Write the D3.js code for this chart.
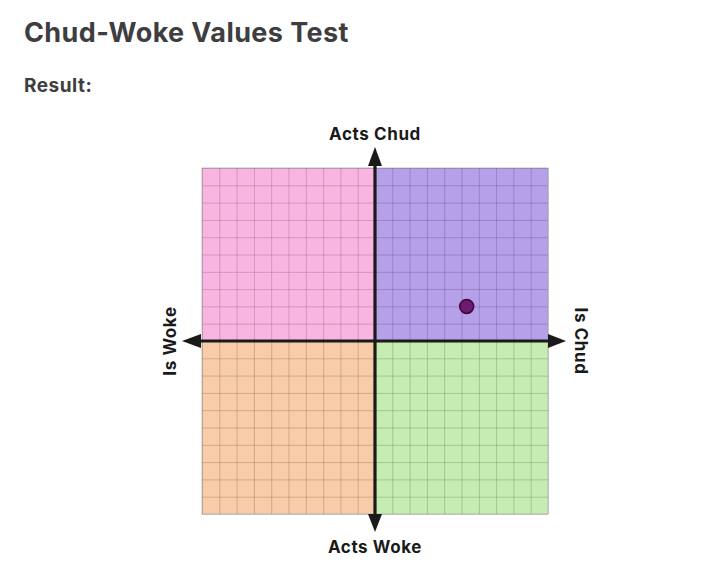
<!DOCTYPE html>
<html>
<head>
<meta charset="utf-8">
<script src="https://cdn.jsdelivr.net/npm/d3@7"></script>
<style>
  body { margin: 0; background: #fff; }
  svg text { font-family: Inter, "Open Sans", sans-serif; font-weight: 700; }
</style>
</head>
<body>
<svg id="chart" width="718" height="567"></svg>
<script>
/* data */
var quadrants = ["Acts Chud / Is Woke", "Acts Chud / Is Chud", "Acts Woke / Is Woke", "Acts Woke / Is Chud"];
var quadrantX = [-10, 0, -10, 0];
var quadrantY = [10, 10, 0, 0];
var quadrantColors = ["#f9b5e1", "#b7a0ea", "#f8cca8", "#c6ecb1"];
var axisLabels = ["Acts Chud", "Acts Woke", "Is Woke", "Is Chud"];
var resultX = [5.3];   // Is Woke (-10) .. Is Chud (+10)
var resultY = [2.0];   // Acts Woke (-10) .. Acts Chud (+10)

var svg = d3.select("#chart");

/* titles */
svg.append("text")
  .attr("x", 24).attr("y", 42)
  .attr("fill", "#3e3d3f")
  .style("font-size", "27px")
  .style("letter-spacing", "0.4px")
  .text("Chud-Woke Values Test");

svg.append("text")
  .attr("x", 24).attr("y", 92)
  .attr("fill", "#3e3d3f")
  .style("font-size", "19px")
  .style("letter-spacing", "0.5px")
  .text("Result:");

/* scales */
var xScale = d3.scaleLinear().domain([-10, 10]).range([202, 548]);
var yScale = d3.scaleLinear().domain([10, -10]).range([168, 514]);
var size = xScale(0) - xScale(-10);

/* quadrants */
svg.append("g").selectAll("rect")
  .data(quadrants)
  .enter().append("rect")
    .attr("x", function (d, i) { return xScale(quadrantX[i]); })
    .attr("y", function (d, i) { return yScale(quadrantY[i]); })
    .attr("width", size)
    .attr("height", size)
    .attr("fill", function (d, i) { return quadrantColors[i]; });

/* grid via axes */
var ticks = d3.range(-10, 11);
svg.append("g")
  .attr("class", "grid")
  .attr("transform", "translate(0," + yScale(-10) + ")")
  .call(d3.axisBottom(xScale).tickValues(ticks).tickSize(-(yScale(-10) - yScale(10))).tickFormat(""));
svg.append("g")
  .attr("class", "grid")
  .attr("transform", "translate(" + xScale(-10) + ",0)")
  .call(d3.axisLeft(yScale).tickValues(ticks).tickSize(-(xScale(10) - xScale(-10))).tickFormat(""));
svg.selectAll(".grid .domain").remove();
svg.selectAll(".grid line")
  .attr("stroke", "#000")
  .attr("stroke-opacity", 0.17)
  .attr("stroke-width", 1);

/* border */
svg.append("rect")
  .attr("x", xScale(-10)).attr("y", yScale(10))
  .attr("width", xScale(10) - xScale(-10))
  .attr("height", yScale(-10) - yScale(10))
  .attr("fill", "none")
  .attr("stroke", "#9a9a9a")
  .attr("stroke-opacity", 0.6);

/* main axes with arrowheads */
var ext = 17, aw = 7;
var cx = xScale(0), cy = yScale(0);
var yTop = yScale(10), yBot = yScale(-10), xLft = xScale(-10), xRgt = xScale(10);
var axes = svg.append("g").attr("class", "axes");
axes.append("line")
  .attr("x1", cx).attr("x2", cx)
  .attr("y1", yTop - 2).attr("y2", yBot + 2)
  .attr("stroke", "#1a1a1a").attr("stroke-width", 3.2);
axes.append("line")
  .attr("x1", xLft - 2).attr("x2", xRgt + 2)
  .attr("y1", cy).attr("y2", cy)
  .attr("stroke", "#1a1a1a").attr("stroke-width", 3.2);

var arrows = [
  [[cx, yTop - ext - 4], [cx - aw, yTop - 2], [cx + aw, yTop - 2]],
  [[cx, yBot + ext + 1], [cx - aw, yBot], [cx + aw, yBot]],
  [[xLft - ext - 3, cy], [xLft - 1, cy - aw], [xLft - 1, cy + aw]],
  [[xRgt + ext + 1, cy], [xRgt, cy - aw], [xRgt, cy + aw]]
];
axes.selectAll("path")
  .data(arrows)
  .enter().append("path")
    .attr("d", function (d) { return "M" + d.join("L") + "Z"; })
    .attr("fill", "#1a1a1a");

/* axis labels */
function axisLabel(txt, transform) {
  svg.append("text")
    .attr("transform", transform)
    .attr("text-anchor", "middle")
    .attr("fill", "#1a1a1a")
    .style("font-size", "17px")
    .style("letter-spacing", "0.6px")
    .text(txt);
}
axisLabel(axisLabels[0], "translate(" + cx + ",140)");
axisLabel(axisLabels[1], "translate(" + cx + ",553)");
axisLabel(axisLabels[2], "translate(176," + cy + ") rotate(-90)");
axisLabel(axisLabels[3], "translate(575," + cy + ") rotate(90)");

/* result point */
svg.append("g").selectAll("circle")
  .data(resultX)
  .enter().append("circle")
    .attr("cx", function (d) { return xScale(d); })
    .attr("cy", function (d, i) { return yScale(resultY[i]); })
    .attr("r", 7)
    .attr("fill", "#6e1a70")
    .attr("stroke", "#3a0a3c")
    .attr("stroke-width", 1.5);
</script>
</body>
</html>
